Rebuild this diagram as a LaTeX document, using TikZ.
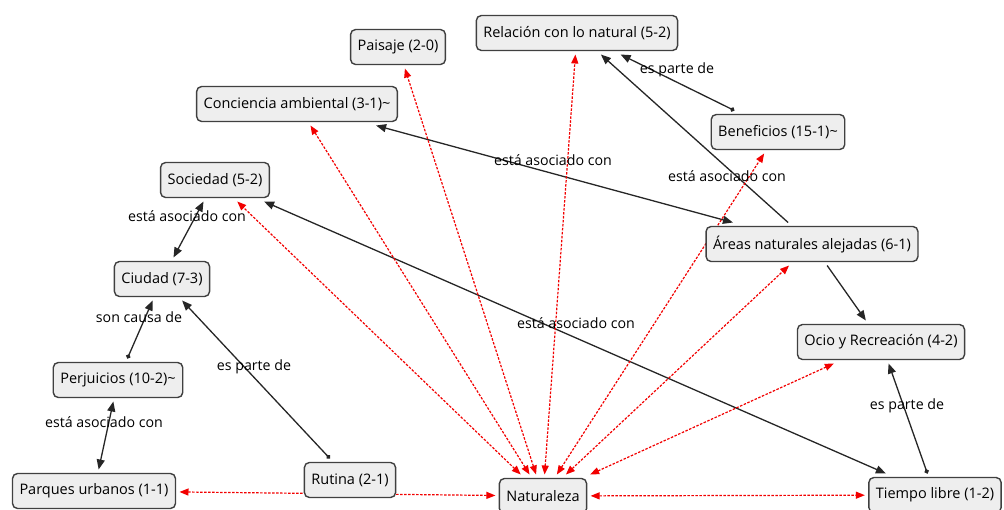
\documentclass[tikz,border=0pt]{standalone}
\usepackage{fontspec}
\setmainfont{Open Sans}
\usepackage{tikz}
\usetikzlibrary{positioning,arrows.meta,backgrounds}

\begin{document}
\begin{tikzpicture}[x=1pt, y=-1pt,
    code/.style={draw=black!75, line width=1.4pt, rounded corners=5pt, fill=gray!13,
        font=\fontsize{14.5}{16}\selectfont, inner xsep=7pt, minimum height=35pt, outer sep=4pt},
    rel/.style={font=\fontsize{14.2}{16}\selectfont, inner sep=1pt},
    link/.style={black!85, line width=1.3pt, -{Triangle[length=10pt, width=8pt]}},
    dlink/.style={link, {Circle[length=4.5pt]}-{Triangle[length=10pt, width=8pt]}},
    blink/.style={link, {Triangle[length=10pt, width=8pt]}-{Triangle[length=10pt, width=8pt]}},
    nat/.style={red!95!black, line width=1.2pt, dash pattern=on 2.5pt off 1.5pt,
        {Triangle[length=9pt, width=7pt]}-{Triangle[length=9pt, width=7pt]}}]
\useasboundingbox (0,0) rectangle (1004,509);

% Codes
\node[code] (paisaje)    at (398,47)  {Paisaje (2-0)};
\node[code] (relacion)   at (577,33)  {Relación con lo natural (5-2)};
\node[code] (conciencia) at (297,104) {Conciencia ambiental (3-1)\textasciitilde};
\node[code] (beneficios) at (778,132) {Beneficios (15-1)\textasciitilde};
\node[code] (sociedad)   at (215,180) {Sociedad (5-2)};
\node[code] (areas)      at (812,244) {Áreas naturales alejadas (6-1)};
\node[code] (ciudad)     at (162,279) {Ciudad (7-3)};
\node[code] (ocio)       at (881,342) {Ocio y Recreación (4-2)};
\node[code] (perjuicios) at (118,380) {Perjuicios (10-2)\textasciitilde};
\node[code] (rutina)     at (350,480) {Rutina (2-1)};
\node[code] (parques)    at (94,491)  {Parques urbanos (1-1)};
\node[code] (naturaleza) at (543,496) {Naturaleza};
\node[code] (tiempo)     at (935,495) {Tiempo libre (1-2)};

% Relations
\begin{pgfonlayer}{background}
\draw[blink] (sociedad) -- (ciudad);
\draw[dlink] (perjuicios) -- (ciudad);
\draw[blink] (perjuicios) -- (parques);
\draw[dlink] (rutina) -- (ciudad);
\draw[blink] (conciencia) -- (areas);
\draw[dlink] (beneficios) -- (relacion);
\draw[link] (areas) -- (relacion);
\draw[blink] (sociedad) -- (tiempo);
\draw[link] (areas) -- (ocio);
\draw[dlink] (tiempo) -- (ocio);

% Naturaleza
\foreach \c in {paisaje,relacion,conciencia,sociedad,beneficios,areas,ocio,tiempo,parques}
    \draw[nat] (naturaleza) -- (\c);
\end{pgfonlayer}

% Labels
\node[rel] (l1) at (187,216) {está asociado con};
\node[rel] (l2) at (139,317) {son causa de};
\node[rel] (l3) at (104,422) {está asociado con};
\node[rel] (l4) at (254,367) {es parte de};
\node[rel] (l5) at (553,160) {está asociado con};
\node[rel] (l6) at (677,70)  {es parte de};
\node[rel] (l7) at (727,176) {está asociado con};
\node[rel] (l8) at (576,323) {está asociado con};
\node[rel] (l9) at (907,406) {es parte de};
\end{tikzpicture}
\end{document}
